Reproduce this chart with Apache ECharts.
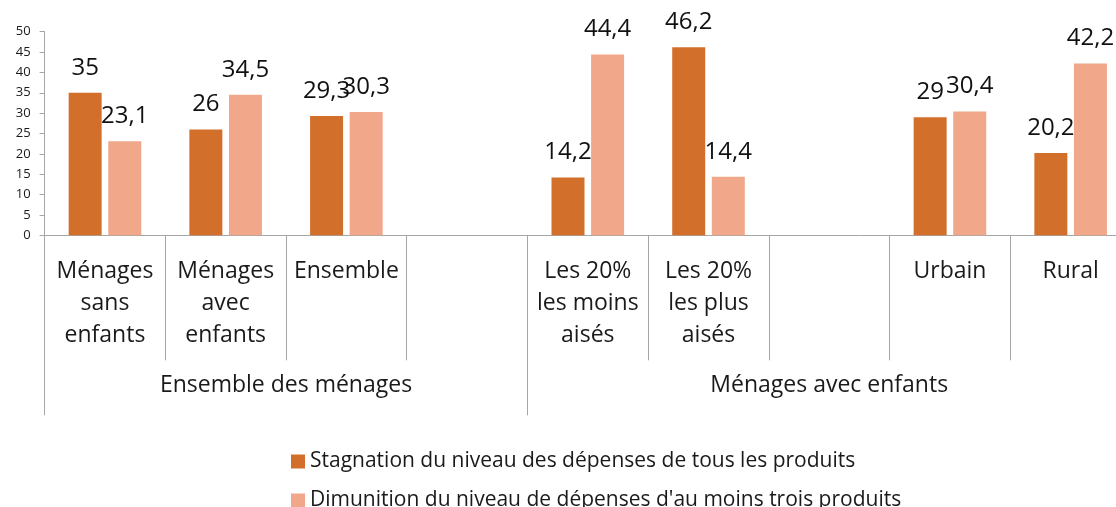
<!DOCTYPE html>
<html>
<head>
<meta charset="utf-8">
<script src="https://cdn.jsdelivr.net/npm/echarts@6/dist/echarts.min.js"></script>
<style>
  html, body { margin: 0; padding: 0; background: #fff; overflow: hidden; }
  /* le graphique d'origine est rogné à droite : la zone de dessin dépasse la fenêtre */
  #main { width: 1140px; height: 507px; }
</style>
</head>
<body>
<div id="main"></div>
<script>
(function () {

    // catégories (les cases vides servent d'espace entre les groupes)
    var categories = ['Ménages\nsans\nenfants', 'Ménages\navec\nenfants', 'Ensemble', '',
        'Les 20%\nles moins\naisés', 'Les 20%\nles plus\naisés', '', 'Urbain', 'Rural'];
    var groupNames = ['Ensemble des ménages', 'Ménages avec enfants'];
    var groupCenters = [2, 6.5];     // milieu de chaque groupe, en cases
    var groupEdges = [0, 4, 9];

    var stagnation = [35, 26, 29.3, null, 14.2, 46.2, null, 29, 20.2];
    var diminution = [23.1, 34.5, 30.3, null, 44.4, 14.4, null, 30.4, 42.2];

    var yTicks = [0, 50, 5];  // min, max, pas

    var seriesNames = ['Stagnation du niveau des dépenses de tous les produits',
        "Dimunition du niveau de dépenses d'au moins trois produits"];

    var FONT = '"Open Sans"';
    var comma = function (p) { return String(p.value).replace('.', ','); };

    var chart = echarts.init(document.getElementById('main'), null, { renderer: 'canvas' });

    // une légende par série, pour les empiler comme dans l'original
    var legendOf = function (name, top) {
        return {
            orient: 'vertical',
            left: 291,
            top: top,
            padding: 0,
            itemWidth: 14,
            itemHeight: 14,
            itemGap: 0,
            icon: 'rect',
            textStyle: { fontFamily: FONT, fontSize: 21, color: '#1a1a1a' },
            data: [name]
        };
    };

    var barLabel = { show: true, position: 'top', distance: 13, fontFamily: FONT, fontSize: 24, color: '#111', formatter: comma };

    chart.setOption({
        backgroundColor: '#ffffff',
        animation: false,
        textStyle: { fontFamily: FONT },
        grid: { left: 44.6, right: 9, top: 31.7, bottom: 271.7, containLabel: false },
        legend: [legendOf(seriesNames[0], 451), legendOf(seriesNames[1], 490)],
        xAxis: [{
            type: 'category',
            data: categories,
            axisLine: { lineStyle: { color: '#a6a6a6', width: 1 } },
            axisTick: { show: true, length: 125, lineStyle: { color: '#a6a6a6' } },
            axisLabel: {
                interval: 0,
                margin: 20,
                verticalAlign: 'top',
                fontFamily: FONT,
                fontSize: 23,
                lineHeight: 32,
                color: '#1a1a1a'
            }
        }, {
            type: 'value',
            min: 0,
            max: 9,
            position: 'bottom',
            axisLine: { show: false },
            splitLine: { show: false },
            axisTick: { show: true, length: 180, customValues: groupEdges, lineStyle: { color: '#a6a6a6' } },
            axisLabel: {
                customValues: groupCenters,
                margin: 139,
                fontFamily: FONT,
                fontSize: 23,
                color: '#1a1a1a',
                formatter: function (v) {
                    var i = groupCenters.indexOf(v);
                    return i >= 0 ? groupNames[i] : '';
                }
            }
        }],
        yAxis: {
            type: 'value',
            min: yTicks[0],
            max: yTicks[1],
            interval: yTicks[2],
            axisLine: { show: true, lineStyle: { color: '#a6a6a6' } },
            axisTick: { show: true, length: 5, lineStyle: { color: '#a6a6a6' } },
            splitLine: { show: false },
            axisLabel: { fontFamily: FONT, fontSize: 13, color: '#1a1a1a', margin: 14 }
        },
        series: [{
            name: seriesNames[0],
            type: 'bar',
            data: stagnation,
            barWidth: 33,
            barGap: '20%',
            itemStyle: { color: '#D2702B' },
            label: barLabel
        }, {
            name: seriesNames[1],
            type: 'bar',
            data: diminution,
            barWidth: 33,
            barGap: '20%',
            itemStyle: { color: '#F0A78A' },
            label: barLabel
        }]
    });

})();
</script>
</body>
</html>
